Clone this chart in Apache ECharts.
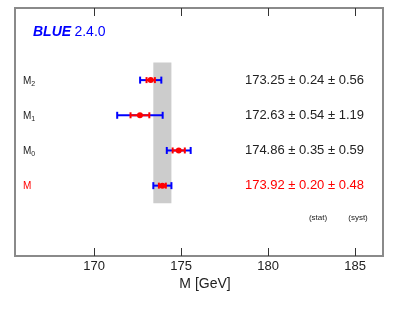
<!DOCTYPE html>
<html>
<head>
<meta charset="utf-8">
<script src="https://cdn.jsdelivr.net/npm/echarts@6/dist/echarts.min.js"></script>
<style>html,body{margin:0;padding:0;background:#fff}#c{width:399px;height:312px}</style>
</head>
<body>
<div id="c"></div>
<script>
// Rows from bottom (index 0) to top
const rowNames = ['M', 'M', 'M', 'M'];
const rowSubs = ['', '0', '1', '2'];
const centrals = [173.92, 174.86, 172.63, 173.25];
const statErr = [0.20, 0.35, 0.54, 0.24];
const systErr = [0.48, 0.59, 1.19, 0.56];
const rowColors = ['#ff0000', '#222222', '#222222', '#222222'];
const xTicks = [170, 175, 180, 185];

const totErr = centrals.map((c, i) => Math.sqrt(statErr[i] ** 2 + systErr[i] ** 2));
const data = centrals.map((c, i) => [i, c, statErr[i], totErr[i]]);

const chart = echarts.init(document.getElementById('c'));
const F = '"Liberation Sans", Arial, Helvetica, sans-serif';

function renderItem(params, api) {
  const i = api.value(0), c = api.value(1), s = api.value(2), t = api.value(3);
  const p = api.coord([c, i]);
  const tl = api.coord([c - t, i]), tr = api.coord([c + t, i]);
  const sl = api.coord([c - s, i]), sr = api.coord([c + s, i]);
  const blue = { stroke: '#0000ff', lineWidth: 2 };
  const red = { stroke: '#ff0000', lineWidth: 2 };
  const capH = 3.5, capS = 3;
  const gx = params.coordSys.x, gw = params.coordSys.width;
  const fmt = v => v.toFixed(2);
  return {
    type: 'group',
    children: [
      { type: 'line', shape: { x1: tl[0], y1: p[1], x2: tr[0], y2: p[1] }, style: blue },
      { type: 'line', shape: { x1: tl[0], y1: p[1] - capH, x2: tl[0], y2: p[1] + capH }, style: blue },
      { type: 'line', shape: { x1: tr[0], y1: p[1] - capH, x2: tr[0], y2: p[1] + capH }, style: blue },
      { type: 'line', shape: { x1: sl[0], y1: p[1], x2: sr[0], y2: p[1] }, style: red },
      { type: 'line', shape: { x1: sl[0], y1: p[1] - capS, x2: sl[0], y2: p[1] + capS }, style: red },
      { type: 'line', shape: { x1: sr[0], y1: p[1] - capS, x2: sr[0], y2: p[1] + capS }, style: red },
      { type: 'circle', shape: { cx: p[0], cy: p[1], r: 3 }, style: { fill: '#ff0000' } },
      {
        type: 'text', x: gx + 8, y: p[1] + 1,
        style: {
          text: rowSubs[i] ? '{m|' + rowNames[i] + '}{s|' + rowSubs[i] + '}' : '{m|' + rowNames[i] + '}',
          verticalAlign: 'middle', align: 'left',
          rich: {
            m: { fontSize: 10, fontFamily: F, fill: rowColors[i] },
            s: { fontSize: 7, fontFamily: F, fill: rowColors[i], padding: [6, 0, 0, 0] }
          }
        }
      },
      {
        type: 'text', x: gx + gw - 19, y: p[1],
        style: {
          text: fmt(centrals[i]) + ' \u00b1 ' + fmt(statErr[i]) + ' \u00b1 ' + fmt(systErr[i]),
          fontSize: 13, fontFamily: F, fill: rowColors[i], align: 'right', verticalAlign: 'middle'
        }
      }
    ]
  };
}

const bandLo = centrals[0] - totErr[0], bandHi = centrals[0] + totErr[0];

chart.setOption({
  animation: false,
  grid: { left: 15, right: 16, top: 8, bottom: 56, show: true, borderColor: '#8a8a8a', borderWidth: 2 },
  xAxis: [{
    type: 'value', min: 165.45, max: 186.6, position: 'bottom',
    axisLine: { show: false, onZero: false }, splitLine: { show: false },
    axisTick: { inside: true, length: 8, customValues: xTicks, lineStyle: { color: '#333' } },
    axisLabel: { customValues: xTicks, fontSize: 13, fontFamily: F, color: '#222', margin: 4 }
  }, {
    type: 'value', min: 165.45, max: 186.6, position: 'top',
    axisLine: { show: false, onZero: false }, splitLine: { show: false },
    axisTick: { inside: true, length: 8, customValues: xTicks, lineStyle: { color: '#333' } },
    axisLabel: { show: false }
  }],
  yAxis: {
    type: 'value', min: -2, max: 5.05,
    axisLine: { show: false, onZero: false }, axisTick: { show: false }, axisLabel: { show: false }, splitLine: { show: false }
  },
  graphic: [
    {
      type: 'text', left: 33, top: 25,
      style: {
        text: '{b|BLUE} {v|2.4.0}',
        rich: {
          b: { fontSize: 14, fontWeight: 'bold', fontStyle: 'italic', fontFamily: F, fill: '#0000ff' },
          v: { fontSize: 14, fontFamily: F, fill: '#0000ff' }
        }
      }
    },
    { type: 'text', x: 318, y: 218, style: { text: '(stat)', fontSize: 8, fontFamily: F, fill: '#222', align: 'center', verticalAlign: 'middle' } },
    { type: 'text', x: 358, y: 218, style: { text: '(syst)', fontSize: 8, fontFamily: F, fill: '#222', align: 'center', verticalAlign: 'middle' } },
    { type: 'text', x: 205, y: 284, style: { text: 'M [GeV]', fontSize: 14, fontFamily: F, fill: '#222', align: 'center', verticalAlign: 'middle' } }
  ],
  series: [{
    type: 'custom',
    renderItem: renderItem,
    data: data,
    encode: { x: 1, y: 0 },
    z: 5,
    markArea: {
      silent: true,
      itemStyle: { color: '#cccccc' },
      data: [[{ coord: [bandLo, -0.5] }, { coord: [bandHi, 3.5] }]]
    }
  }]
});
</script>
</body>
</html>
